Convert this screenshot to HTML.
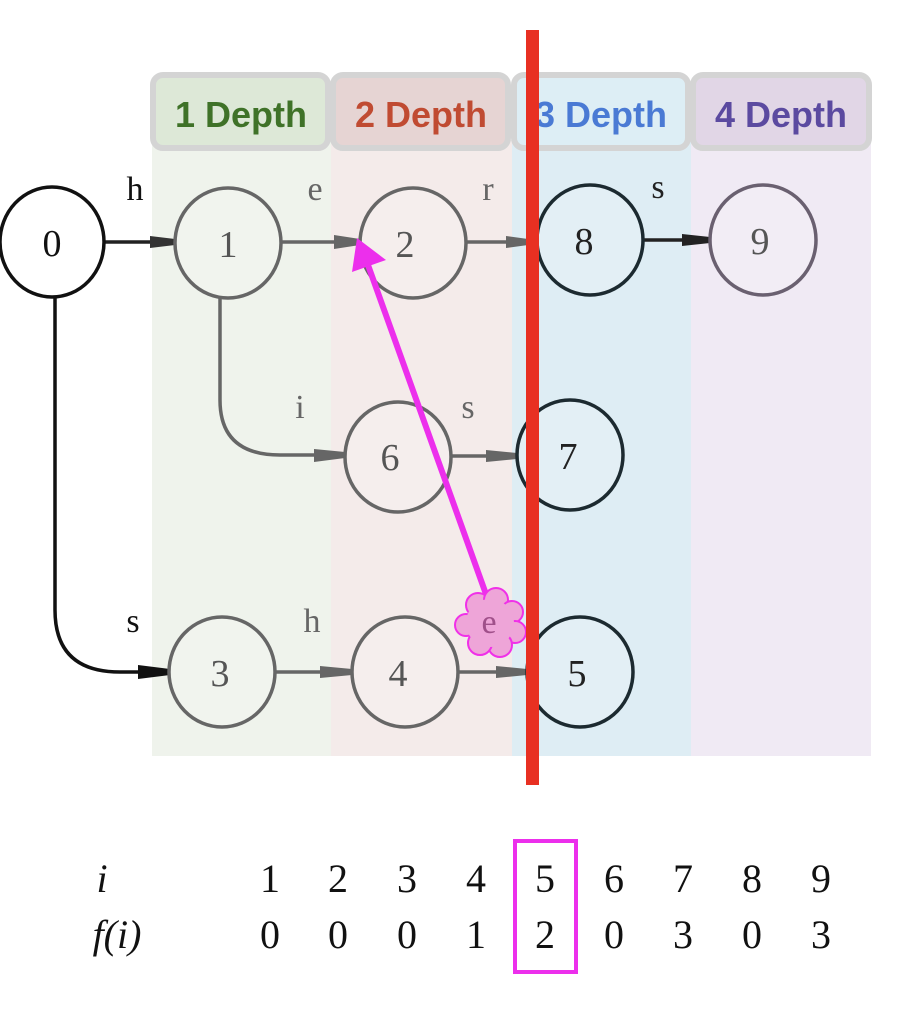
<!DOCTYPE html>
<html><head><style>
body{margin:0;background:#fff;width:922px;height:1014px;overflow:hidden}
</style></head><body>
<svg width="922" height="1014" xmlns="http://www.w3.org/2000/svg" font-family="Liberation Serif, serif">
<rect x="152" y="140" width="179" height="616" fill="#eff3ec"/>
<rect x="331" y="140" width="181" height="616" fill="#f4ebea"/>
<rect x="512" y="140" width="179" height="616" fill="#deedf4"/>
<rect x="691" y="140" width="180" height="616" fill="#f0eaf4"/>
<g stroke="#d4d4d4" stroke-width="6">
<rect x="153" y="75" width="175" height="73" rx="10" fill="#dde8d7"/>
<rect x="333" y="75" width="175" height="73" rx="10" fill="#e6d4d3"/>
<rect x="514" y="75" width="174" height="73" rx="10" fill="#ddeef5"/>
<rect x="693" y="75" width="176" height="73" rx="10" fill="#e1d6e6"/>
</g>
<g font-family="Liberation Sans, sans-serif" font-weight="bold" font-size="36" text-anchor="middle">
<text x="241" y="127" fill="#3f7228">1 Depth</text>
<text x="421" y="127" fill="#c04b32">2 Depth</text>
<text x="601" y="127" fill="#4a7ad4">3 Depth</text>
<text x="781" y="127" fill="#5b4aa0">4 Depth</text>
</g>
<g fill="none" stroke-width="3.5">
<path d="M104 242 H175" stroke="#222"/>
<path d="M281 242 H360" stroke="#666"/>
<path d="M466 242 H537" stroke="#666"/>
<path d="M643 240 H710" stroke="#222"/>
<path d="M220 296 V400 Q220 455 280 455 H345" stroke="#666"/>
<path d="M451 456 H517" stroke="#666"/>
<path d="M55 297 V610 Q55 672 120 672 H170" stroke="#111"/>
<path d="M275 672 H352" stroke="#666"/>
<path d="M458 672 H527" stroke="#666"/>
</g>
<g>
<polygon points="150,236 175,239 175,245 150,248" fill="#333"/>
<polygon points="334,235 360,239 360,245 334,249" fill="#666"/>
<polygon points="506,236 528,239 528,245 506,248" fill="#666"/>
<polygon points="682,234 710,237 710,243 682,246" fill="#222"/>
<polygon points="314,449 345,452 345,458 314,462" fill="#666"/>
<polygon points="486,450 517,453 517,459 486,462" fill="#666"/>
<polygon points="138,665 170,669 170,675 138,679" fill="#111"/>
<polygon points="320,666 352,669 352,675 320,678" fill="#666"/>
<polygon points="496,666 527,669 527,675 496,678" fill="#666"/>
</g>
<g stroke-width="3.5" fill="rgba(255,255,255,0.15)">
<ellipse cx="52" cy="242" rx="52" ry="55" stroke="#111" fill="#fff"/>
<ellipse cx="228" cy="243" rx="53" ry="55" stroke="#666"/>
<ellipse cx="413" cy="243" rx="53" ry="55" stroke="#666"/>
<ellipse cx="590" cy="240" rx="53" ry="55" stroke="#1c2a30"/>
<ellipse cx="763" cy="240" rx="53" ry="55" stroke="#6a6070"/>
<ellipse cx="398" cy="457" rx="53" ry="55" stroke="#666"/>
<ellipse cx="570" cy="455" rx="53" ry="55" stroke="#1c2a30"/>
<ellipse cx="222" cy="672" rx="53" ry="55" stroke="#666"/>
<ellipse cx="405" cy="672" rx="53" ry="55" stroke="#666"/>
<ellipse cx="580" cy="672" rx="53" ry="55" stroke="#1c2a30"/>
</g>
<g font-size="38" text-anchor="middle">
<text x="52" y="256" fill="#111">0</text>
<text x="228" y="257" fill="#555">1</text>
<text x="405" y="257" fill="#555">2</text>
<text x="584" y="254" fill="#222">8</text>
<text x="760" y="254" fill="#555">9</text>
<text x="390" y="470" fill="#555">6</text>
<text x="568" y="469" fill="#222">7</text>
<text x="220" y="686" fill="#555">3</text>
<text x="398" y="686" fill="#555">4</text>
<text x="577" y="686" fill="#222">5</text>
</g>
<g font-size="34" text-anchor="middle">
<text x="135" y="200" fill="#111">h</text>
<text x="315" y="200" fill="#666">e</text>
<text x="488" y="200" fill="#666">r</text>
<text x="658" y="198" fill="#222">s</text>
<text x="300" y="418" fill="#666">i</text>
<text x="468" y="418" fill="#666">s</text>
<text x="133" y="632" fill="#111">s</text>
<text x="312" y="632" fill="#666">h</text>
</g>
<g fill="#ec2fec" stroke="#ec2fec">
<line x1="487" y1="597" x2="368" y2="265" stroke-width="6"/>
<polygon points="357,238 352,272 386,260" stroke="none"/>
</g>
<g fill="#eea5d8" stroke="#f030e8" stroke-width="2">
<circle cx="478" cy="605" r="12"/><circle cx="496" cy="600" r="12"/><circle cx="512" cy="612" r="11"/>
<circle cx="515" cy="632" r="11"/><circle cx="500" cy="645" r="12"/><circle cx="480" cy="643" r="12"/>
<circle cx="466" cy="625" r="11"/>
</g>
<circle cx="490" cy="623" r="24" fill="#eea5d8"/>
<text x="489" y="633" font-size="34" text-anchor="middle" fill="#a0508a">e</text>
<rect x="526" y="30" width="13" height="755" fill="#e83022"/>
<g font-size="40" text-anchor="middle" fill="#111">
<text x="102" y="892" font-style="italic">i</text>
<text x="117" y="948" font-style="italic">f(i)</text>
<text x="270" y="892">1</text><text x="338" y="892">2</text><text x="407" y="892">3</text><text x="476" y="892">4</text><text x="545" y="892">5</text><text x="614" y="892">6</text><text x="683" y="892">7</text><text x="752" y="892">8</text><text x="821" y="892">9</text>
<text x="270" y="948">0</text><text x="338" y="948">0</text><text x="407" y="948">0</text><text x="476" y="948">1</text><text x="545" y="948">2</text><text x="614" y="948">0</text><text x="683" y="948">3</text><text x="752" y="948">0</text><text x="821" y="948">3</text>
</g>
<rect x="515" y="841" width="61" height="131" fill="none" stroke="#ec2fec" stroke-width="4"/>
</svg>
</body></html>
